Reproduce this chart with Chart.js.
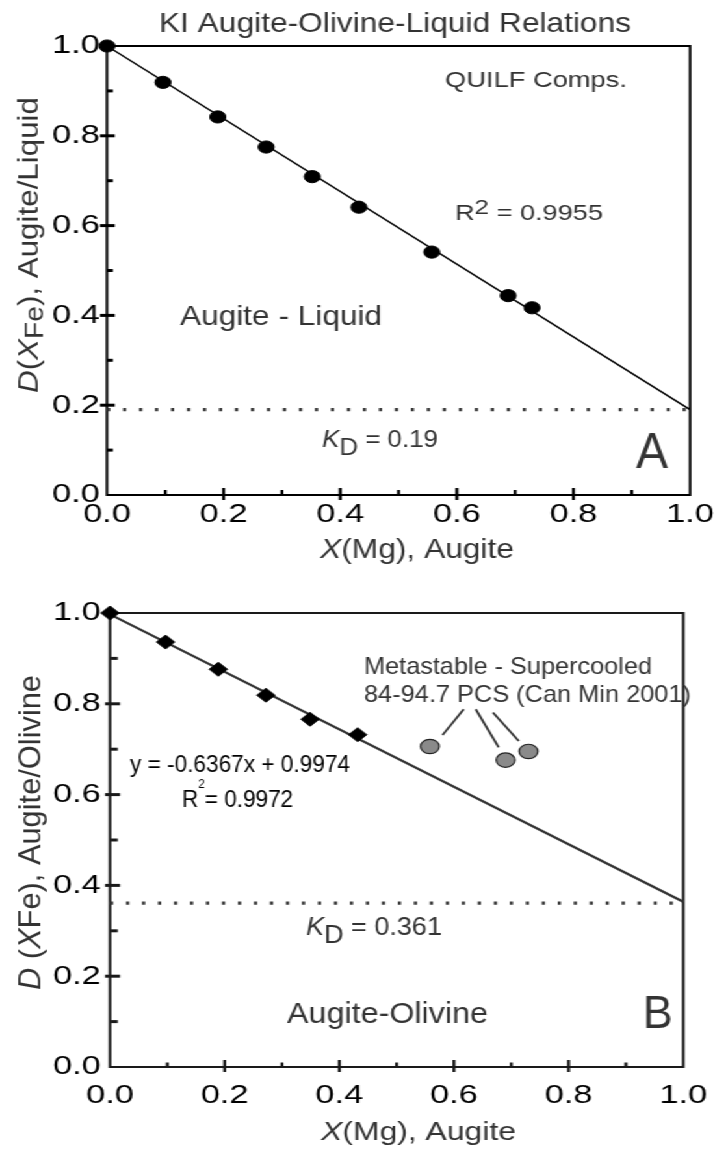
<!DOCTYPE html>
<html>
<head>
<meta charset="utf-8">
<title>KI Augite-Olivine-Liquid Relations</title>
<script src="https://cdn.jsdelivr.net/npm/chart.js@4.4.1/dist/chart.umd.min.js"></script>
<style>
  html, body { margin: 0; padding: 0; background: #fff; overflow: hidden; }
  /* the original figure is stretched sideways, so this one is too */
  #page { width: 557px; transform: scaleX(1.3); transform-origin: 0 0; }
  canvas { display: block; }
</style>
</head>
<body>
<div id="page">
  <canvas id="chartA" width="557" height="576"></canvas>
  <canvas id="chartB" width="557" height="577"></canvas>
</div>
<script>
var S = 1.3;
var FONT = '"Liberation Sans", Arial, sans-serif';

/* ---- A : augite / liquid (QUILF comps) ---- */
var xMgA  = [0.0, 0.096, 0.190, 0.273, 0.352, 0.432, 0.557, 0.688, 0.729];
var dFeA  = [1.0, 0.919, 0.842, 0.775, 0.709, 0.641, 0.541, 0.444, 0.417];
var fitXA = [0.0, 1.0];
var fitYA = [1.0, 0.19];
var kdA   = 0.19;

/* ---- B : augite / olivine ---- */
var xMgB  = [0.0, 0.097, 0.189, 0.272, 0.349, 0.432];
var dFeB  = [1.0, 0.936, 0.876, 0.819, 0.766, 0.732];
var fitXB = [0.0, 1.0];
var fitYB = [0.997, 0.364];
var kdB   = 0.361;
var metaX = [0.558, 0.690, 0.730];   // metastable - supercooled PCS
var metaY = [0.706, 0.676, 0.695];
// pointer lines from the note to the grey points: x0, y0, x1, y1
var leaders = [[0.580, 0.731, 0.617, 0.788], [0.678, 0.704, 0.638, 0.788], [0.713, 0.718, 0.668, 0.781]];

var tickVals = [0.0, 0.2, 0.4, 0.6, 0.8, 1.0];

// text notes, in page pixels (l/r = ink left/right, b = baseline)
var notesA = [
  { parts: [{t: 'KI Augite-Olivine-Liquid Relations'}], l: 159, r: 631, b: 32, size: 28 },
  { parts: [{t: 'QUILF Comps.'}], l: 445, r: 627, b: 87, size: 22 },
  { parts: [{t: 'R'}, {t: '2', dy: -6, k: 0.95}, {t: ' = 0.9955'}], l: 455, r: 603, b: 220, size: 22 },
  { parts: [{t: 'Augite - Liquid'}], l: 180, r: 382, b: 325, size: 28 },
  { parts: [{t: 'K', it: 1}, {t: 'D', dy: 8}, {t: ' = 0.19'}], l: 322, r: 438, b: 447, size: 23 },
  { parts: [{t: 'A'}], l: 636, r: 668, b: 468, size: 50 },
  { parts: [{t: 'X', it: 1}, {t: '(Mg), Augite'}], l: 320, r: 514, b: 558, size: 28 },
  { rot: 1, parts: [{t: 'D', it: 1}, {t: '('}, {t: 'X', it: 1}, {t: 'Fe', dy: 4, k: 0.9}, {t: '), Augite/Liquid'}],
    top: 97, bottom: 393, b: 38, size: 22.5 }
];
var notesB = [
  { parts: [{t: 'Metastable - Supercooled'}], l: 364, r: 652, b: 674, size: 24 },
  { parts: [{t: '84-94.7 PCS (Can Min 2001)'}], l: 364, r: 691, b: 702, size: 24 },
  { parts: [{t: 'y = -0.6367x + 0.9974'}], l: 130, r: 350, b: 772, size: 23, color: '#000' },
  { parts: [{t: 'R'}, {t: '2', dy: -19, k: 0.52}, {t: '= 0.9972'}], l: 182, r: 293, b: 807, size: 23, color: '#000' },
  { parts: [{t: 'K', it: 1}, {t: 'D', dy: 8}, {t: ' = 0.361'}], l: 306, r: 442, b: 935, size: 25 },
  { parts: [{t: 'Augite-Olivine'}], l: 287, r: 488, b: 1023, size: 29 },
  { parts: [{t: 'B'}], l: 643, r: 673, b: 1028, size: 46 },
  { parts: [{t: 'X', it: 1}, {t: '(Mg), Augite'}], l: 321, r: 516, b: 1140, size: 26 },
  { rot: 1, parts: [{t: 'D', it: 1}, {t: ' ('}, {t: 'X', it: 1}, {t: 'Fe), Augite/Olivine'}],
    top: 675, bottom: 990, b: 40, size: 24.5 }
];

function pts(xs, ys) {
  return xs.map(function (x, i) { return {x: x, y: ys[i]}; });
}

function partFont(p, size) {
  return (p.it ? 'italic ' : '') + (size * (p.k || 1)).toFixed(1) + 'px ' + FONT;
}

// draws a note stretched to the width it has in the figure
function drawNote(ctx, n, yOff) {
  ctx.save();
  ctx.fillStyle = n.color || '#333';
  ctx.textBaseline = 'alphabetic';
  ctx.textAlign = 'left';
  var total = 0;
  n.parts.forEach(function (p) {
    ctx.font = partFont(p, n.size);
    p.w = ctx.measureText(p.t).width;
    total += p.w;
  });
  if (n.rot) {
    ctx.translate(n.b / S, n.bottom - yOff);
    ctx.rotate(-Math.PI / 2);
    ctx.scale((n.bottom - n.top) / total, 1);
  } else {
    ctx.translate(n.l / S, n.b - yOff);
    ctx.scale((n.r - n.l) / S / total, 1);
  }
  var x = 0;
  n.parts.forEach(function (p) {
    ctx.font = partFont(p, n.size);
    ctx.fillText(p.t, x, p.dy || 0);
    x += p.w;
  });
  ctx.restore();
}

// frame, inside/outside tick marks and notes
function framePlugin(o) {
  return {
    id: 'frame',
    beforeDatasetsDraw: function (chart) {
      var a = chart.chartArea, ctx = chart.ctx;
      var xs = chart.scales.x, ys = chart.scales.y;
      ctx.save();
      ctx.strokeStyle = o.color;
      ctx.lineWidth = 2;
      ctx.strokeRect(a.left, a.top, a.right - a.left, a.bottom - a.top);
      ctx.lineCap = 'butt';
      for (var i = 0; i < tickVals.length; i++) {
        var v = tickVals[i];
        if (i > 0) {
          var mid = (v + tickVals[i - 1]) / 2;
          ctx.lineWidth = 2.3;
          var px = xs.getPixelForValue(mid);
          ctx.beginPath(); ctx.moveTo(px, a.bottom + o.xMin[0]); ctx.lineTo(px, a.bottom + o.xMin[1]); ctx.stroke();
          ctx.lineWidth = 3;
          var py = ys.getPixelForValue(mid);
          ctx.beginPath(); ctx.moveTo(a.left + o.yMin[0], py); ctx.lineTo(a.left + o.yMin[1], py); ctx.stroke();
        }
        if (i > 0 && i < tickVals.length - 1) {
          ctx.lineWidth = 2.3;
          var qx = xs.getPixelForValue(v);
          ctx.beginPath(); ctx.moveTo(qx, a.bottom + o.xMaj[0]); ctx.lineTo(qx, a.bottom + o.xMaj[1]); ctx.stroke();
          ctx.lineWidth = 3;
          var qy = ys.getPixelForValue(v);
          ctx.beginPath(); ctx.moveTo(a.left + o.yMaj[0], qy); ctx.lineTo(a.left + o.yMaj[1], qy); ctx.stroke();
        }
      }
      ctx.restore();
    },
    afterDraw: function (chart) {
      o.notes.forEach(function (n) { drawNote(chart.ctx, n, o.yOff); });
    }
  };
}

function makeChart(id, datasets, o) {
  var tickFont = {family: FONT, size: 26.5};
  return new Chart(document.getElementById(id), {
    type: 'scatter',
    data: {datasets: datasets},
    options: {
      responsive: false,
      animation: false,
      events: [],
      layout: {padding: {left: 0, right: o.padRight, top: o.padTop, bottom: 0}},
      plugins: {legend: {display: false}, tooltip: {enabled: false}, title: {display: false}},
      scales: {
        x: {
          type: 'linear', min: 0, max: 1,
          grid: {display: false, drawTicks: false},
          border: {display: false},
          ticks: {font: tickFont, color: '#000', padding: o.xPad, maxRotation: 0, autoSkip: false,
                  callback: function (v) { return v.toFixed(1); }},
          afterBuildTicks: function (s) { s.ticks = tickVals.map(function (v) { return {value: v}; }); },
          afterFit: function (s) { s.height = o.xHeight; }
        },
        y: {
          type: 'linear', min: 0, max: 1,
          grid: {display: false, drawTicks: false},
          border: {display: false},
          ticks: {font: tickFont, color: '#000', padding: o.yPad, autoSkip: false,
                  callback: function (v) { return v.toFixed(1); }},
          afterBuildTicks: function (s) { s.ticks = tickVals.map(function (v) { return {value: v}; }); },
          afterFit: function (s) { s.width = o.yWidth; }
        }
      }
    },
    plugins: [framePlugin(o)]
  });
}

/* ---------- chart A ---------- */
makeChart('chartA', [
  {
    data: pts(xMgA, dFeA), pointStyle: 'circle', pointRadius: 6.1,
    backgroundColor: '#000', borderColor: '#000', borderWidth: 1, clip: false
  },
  {
    data: pts(fitXA, fitYA), showLine: true, pointRadius: 0,
    borderColor: '#000', borderWidth: 1.5, clip: false
  },
  {
    data: pts(fitXA, [kdA, kdA]), showLine: true, pointRadius: 0,
    borderColor: '#3a3a3a', borderWidth: 3.3, borderDash: [2.5, 9.8], borderCapStyle: 'butt', clip: false
  }
], {
  color: '#000', padRight: 26.2, padTop: 46, yWidth: 82.3, xHeight: 81, xPad: 4, yPad: 5.5,
  yMaj: [-5.4, 6], yMin: [0, 4.5], xMaj: [-7, 5], xMin: [-5, 0],
  notes: notesA, yOff: 0
});

/* ---------- chart B ---------- */
var setsB = [
  {
    data: pts(xMgB, dFeB), pointStyle: 'rectRot', pointRadius: 7,
    backgroundColor: '#000', borderColor: '#000', borderWidth: 1, clip: false
  },
  {
    data: pts(metaX, metaY), pointStyle: 'circle', pointRadius: 7.2,
    backgroundColor: '#8a8a8a', borderColor: '#222', borderWidth: 1.2, clip: false
  }
];
leaders.forEach(function (l) {
  setsB.push({
    data: pts([l[0], l[2]], [l[1], l[3]]), showLine: true, pointRadius: 0,
    borderColor: '#333', borderWidth: 1.8, clip: false
  });
});
setsB.push({
  data: pts(fitXB, fitYB), showLine: true, pointRadius: 0,
  borderColor: '#333', borderWidth: 2.2, clip: false
});
setsB.push({
  data: pts(fitXB, [kdB, kdB]), showLine: true, pointRadius: 0,
  borderColor: '#3a3a3a', borderWidth: 3.3, borderDash: [2.5, 9.8], borderCapStyle: 'butt', clip: false
});

makeChart('chartB', setsB, {
  color: '#1a1a1a', padRight: 20.8, padTop: 37, yWidth: 84.6, xHeight: 86, xPad: 13, yPad: 7,
  yMaj: [-3.8, 7.7], yMin: [0.5, 6], xMaj: [-7, 5], xMin: [-4.5, 0],
  notes: notesB, yOff: 576
});
</script>
</body>
</html>
